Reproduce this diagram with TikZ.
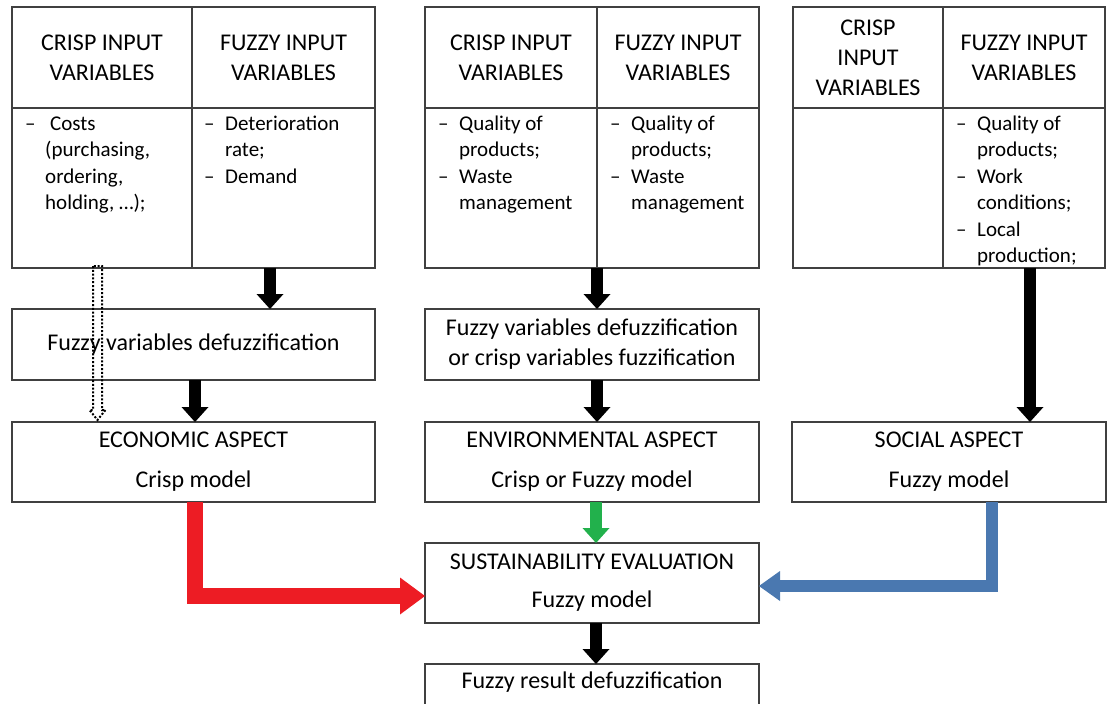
\documentclass[tikz,border=0pt]{standalone}
\usepackage{fontspec}
\setmainfont{Carlito}
\usetikzlibrary{arrows.meta,calc}
\definecolor{boxc}{RGB}{64,64,64}
\definecolor{myred}{RGB}{237,28,36}
\definecolor{mygreen}{RGB}{34,177,76}
\definecolor{myblue}{RGB}{74,120,176}
\newcommand\hfont{\fontsize{24}{30}\selectfont}
\newcommand\lfont{\fontsize{21}{26.5}\selectfont}
\newcommand\afont{\fontsize{24}{40}\selectfont}
\tikzset{
  cell/.style={draw=boxc, line width=1.2pt, anchor=north west, inner sep=0pt, outer sep=0pt, align=center, font=\hfont},
  lst/.style={anchor=base west, inner sep=0pt, font=\lfont, align=left},
  blk/.style={line width=12.5pt, draw=black, -{Triangle[width=27pt,length=15pt,line width=0pt]}},
  dotarr/.style={draw=black, line width=2pt, dash pattern=on 2pt off 1.8pt},
}
\newcommand\mybox[6]{\node[cell, minimum width=#4pt, minimum height=#5pt] (#1) at (#2,#3) {#6};}
\begin{document}
\begin{tikzpicture}[x=1pt,y=-1pt]
\useasboundingbox (0,0) rectangle (1117,704);
\clip (0,0) rectangle (1117,704);
% group 1
\mybox{g1hl}{12}{7}{180}{101}{CRISP INPUT\\VARIABLES}
\mybox{g1hr}{192}{7}{183}{101}{FUZZY INPUT\\VARIABLES}
\mybox{g1bl}{12}{108}{180}{160}{}
\mybox{g1br}{192}{108}{183}{160}{}
\node[lst] (g1l) at (25,130) {\begin{tabular}[t]{@{}p{20pt}@{}l@{}}– & \hspace{5pt}Costs\\ & (purchasing,\\ & ordering,\\ & holding, …);\end{tabular}};
\node[lst] (g1r) at (204,130) {\begin{tabular}[t]{@{}p{21pt}@{}l@{}}– & Deterioration\\ & rate;\\ – & Demand\end{tabular}};
% group 2
\mybox{g2hl}{425}{7}{172}{101}{CRISP INPUT\\VARIABLES}
\mybox{g2hr}{597}{7}{162}{101}{FUZZY INPUT\\VARIABLES}
\mybox{g2bl}{425}{108}{172}{160}{}
\mybox{g2br}{597}{108}{162}{160}{}
\node[lst] (g2l) at (438,130) {\begin{tabular}[t]{@{}p{21pt}@{}l@{}}– & Quality of\\ & products;\\ – & Waste\\ & management\end{tabular}};
\node[lst] (g2r) at (610,130) {\begin{tabular}[t]{@{}p{21pt}@{}l@{}}– & Quality of\\ & products;\\ – & Waste\\ & management\end{tabular}};
% group 3
\mybox{g3hl}{793}{7}{150}{101}{CRISP\\INPUT\\VARIABLES}
\mybox{g3hr}{943}{7}{162}{101}{FUZZY INPUT\\VARIABLES}
\mybox{g3bl}{793}{108}{150}{160}{}
\mybox{g3br}{943}{108}{162}{160}{}
\node[lst] (g3r) at (956,130) {\begin{tabular}[t]{@{}p{21pt}@{}l@{}}– & Quality of\\ & products;\\ – & Work\\ & conditions;\\ – & Local\\ & production;\end{tabular}};
% second row
\mybox{def1}{12}{309}{363}{71}{Fuzzy variables defuzzification}
\mybox{def2}{425}{309}{334}{71}{Fuzzy variables defuzzification\\or crisp variables fuzzification}
% aspects
\node[cell, font=\afont, minimum width=363pt, minimum height=80pt] (econ) at (12,422) {ECONOMIC ASPECT\\Crisp model};
\node[cell, font=\afont, minimum width=334pt, minimum height=80pt] (env) at (425,422) {ENVIRONMENTAL ASPECT\\Crisp or Fuzzy model};
\node[cell, font=\afont, minimum width=314pt, minimum height=80pt] (soc) at (792,422) {SOCIAL ASPECT\\Fuzzy model};
\node[cell, font=\fontsize{24}{38}\selectfont, minimum width=334pt, minimum height=80pt] (sust) at (425,543) {SUSTAINABILITY EVALUATION\\Fuzzy model};
\node[cell, minimum width=334pt, minimum height=80pt] (res) at (425,664) {};
\node[font=\hfont, inner sep=0pt] (restext) at (592,682) {Fuzzy result defuzzification};
% black arrows
\draw[blk] (g1br.south -| 270,0) -- (def1.north -| 270,0);
\draw[blk] (def1.south -| 195,0) -- (econ.north -| 195,0);
\draw[blk] (g2br.south -| 597,0) -- (def2.north -| 597,0);
\draw[blk] (def2.south -| 597,0) -- (env.north -| 597,0);
\draw[blk] (g3br.south -| 1030,0) -- (soc.north -| 1030,0);
\draw[blk] (sust.south -| 596,0) -- (res.north -| 596,0);
\draw[blk, draw=mygreen] (env.south -| 596,0) -- (sust.north -| 596,0);
% red and blue
\draw[line width=16pt, draw=myred, -{Triangle[width=37pt,length=25pt,line width=0pt]}] (econ.south -| 195,0) |- (sust.west |- 0,596);
\draw[line width=12pt, draw=myblue, -{Triangle[width=30pt,length=21pt,line width=0pt]}] (soc.south -| 992,0) |- (sust.east |- 0,586);
% dotted arrow
\coordinate (ds) at (g1bl.south -| 97.5,0);
\coordinate (de) at (econ.north -| 97.5,0);
\draw[dotarr] ($(ds)+(-4.5,-2)$) -- ($(de)+(-4.5,-12)$) -- ($(de)+(-8,-12)$) -- ($(de)+(0,-2)$) -- ($(de)+(8,-12)$) -- ($(de)+(4.5,-12)$) -- ($(ds)+(4.5,-2)$) -- cycle;
\end{tikzpicture}
\end{document}
